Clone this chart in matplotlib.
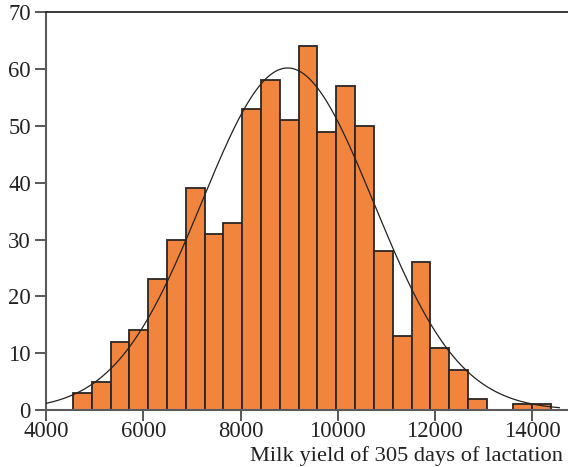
import numpy as np
import matplotlib
matplotlib.use("Agg")
import matplotlib.pyplot as plt

# ---- data ----
bin_start = 4553          # left edge of the first bin (kg)
bin_width = 387           # bin width (kg)
counts = [3, 5, 12, 14, 23, 30, 39, 31, 33, 53, 58, 51, 64, 49, 57, 50,
          28, 13, 26, 11, 7, 2]
extra_lefts = [13613, 14000]   # two isolated high-yield bins
extra_counts = [1, 1]

curve_mean = 8970
curve_sd = 1770
curve_peak = 60.2
curve_x_range = [4000, 14560]

x_ticks = [4000, 6000, 8000, 10000, 12000, 14000]
y_ticks = [0, 10, 20, 30, 40, 50, 60, 70]
x_label = "Milk yield of 305 days of lactation"

# ---- figure ----
W, H = 568, 467
fig = plt.figure(figsize=(W / 100, H / 100), dpi=100)
plt.rcParams['font.family'] = ['Liberation Serif', 'DejaVu Serif']

ax_left, ax_bottom_px, ax_top_px = 46.1, 410, 12.3
ax = fig.add_axes([ax_left / W, 1 - ax_bottom_px / H,
                   (W - ax_left) / W, (ax_bottom_px - ax_top_px) / H])

px_per_unit = 48.6 / 1000
x_right = 4000 + (W - ax_left) / px_per_unit
ax.set_xlim(4000, x_right)
ax.set_ylim(0, 70)

bar_color = '#F2853D'
edge_color = '#2b2522'

lefts = [bin_start + i * bin_width for i in range(len(counts))]
ax.bar(lefts, counts, width=bin_width, align='edge', color=bar_color,
       edgecolor=edge_color, linewidth=1.3, zorder=2)
ax.bar(extra_lefts, extra_counts, width=bin_width, align='edge',
       color=bar_color, edgecolor=edge_color, linewidth=1.3, zorder=2)

xs = np.linspace(curve_x_range[0], curve_x_range[1], 500)
ys = curve_peak * np.exp(-0.5 * ((xs - curve_mean) / curve_sd) ** 2)
ax.plot(xs, ys, color='#222222', linewidth=0.9, zorder=3)

ax.set_xticks(x_ticks)
ax.set_yticks(y_ticks)
ax.tick_params(axis='both', labelsize=16.3, colors='#4a4a4a',
               labelcolor='#222222', width=1.3, length=8)
ax.tick_params(axis='x', pad=0)
ax.tick_params(axis='y', pad=3)

for s in ['left', 'bottom']:
    ax.spines[s].set_color('#5a5a5a')
    ax.spines[s].set_linewidth(1.5)
ax.spines['top'].set_color('#2a2a2a')
ax.spines['top'].set_linewidth(1.3)
ax.spines['right'].set_visible(False)

fig.text(250 / W, 1 - 461 / H, x_label, ha='left', va='baseline',
         fontsize=16.2, color='#222222')

fig.savefig('out.png', dpi=100)
